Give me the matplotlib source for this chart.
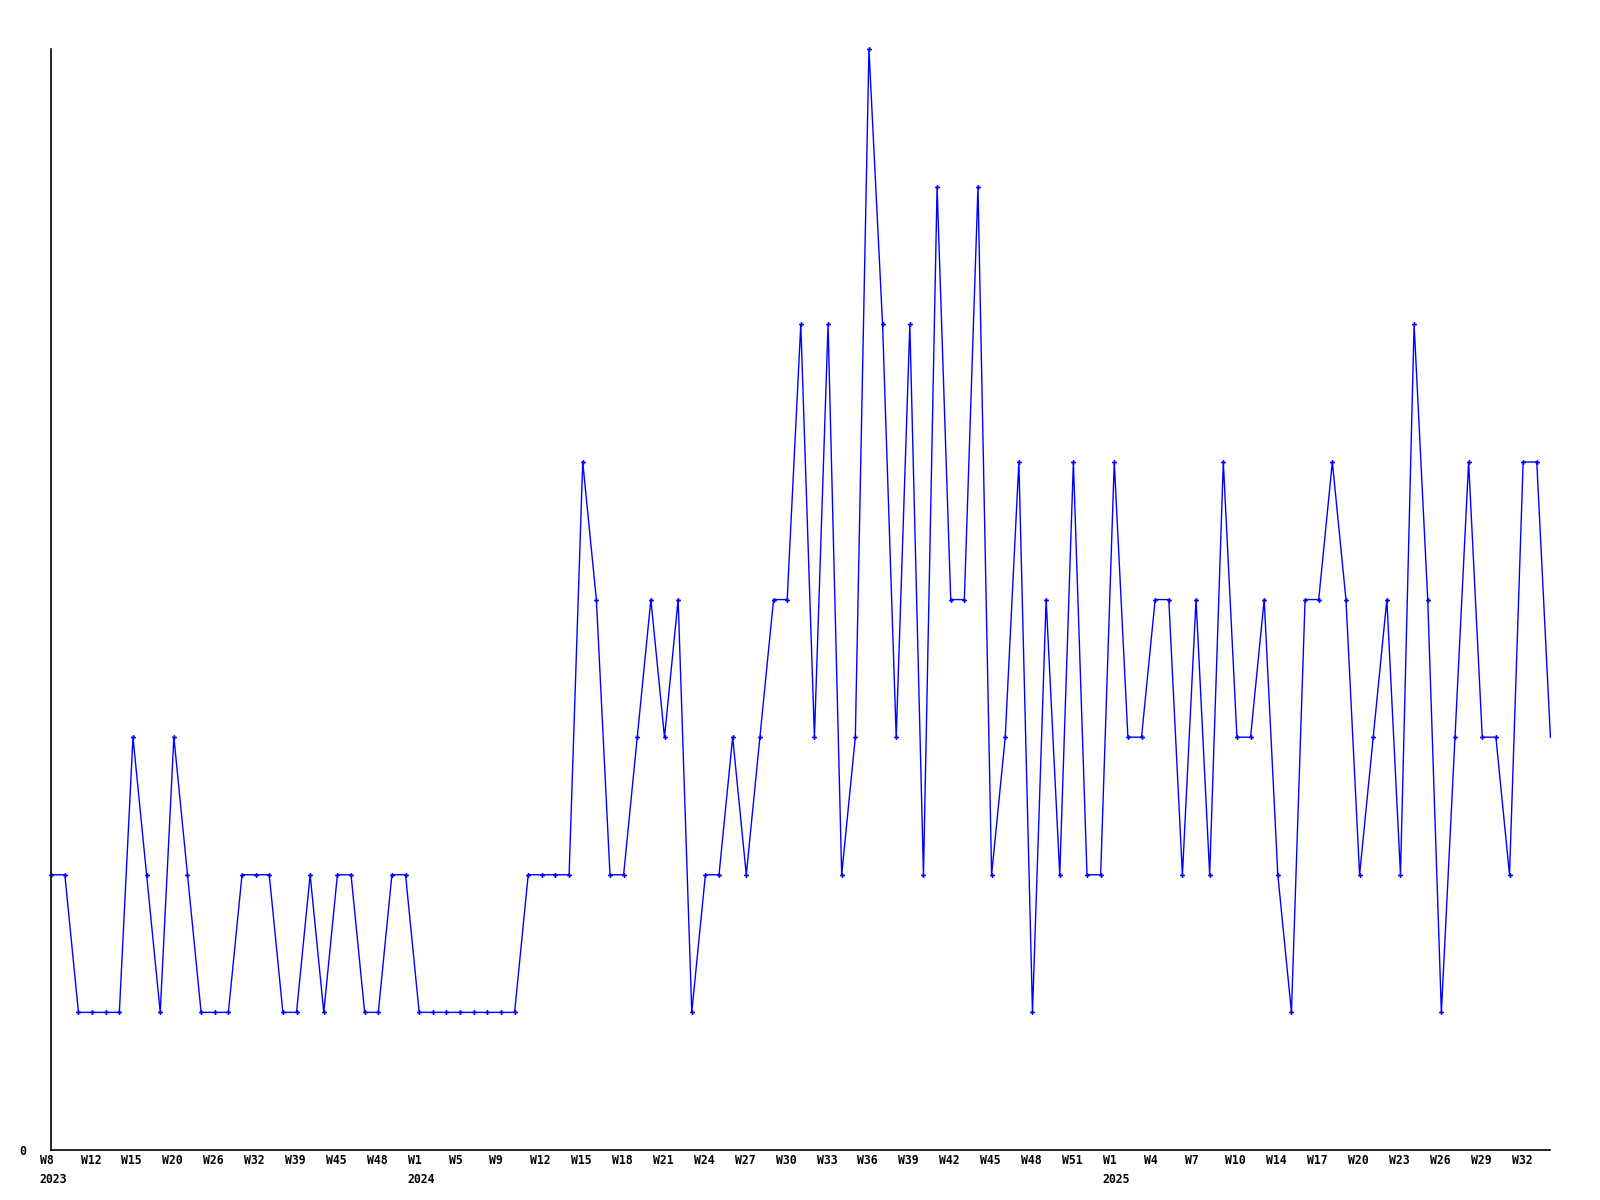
import matplotlib
matplotlib.use("Agg")
import matplotlib.pyplot as plt
import matplotlib.transforms as mtransforms
import numpy as np

# weekly counts, one value per recorded week (weeks with no record are skipped)
counts = [
    2, 2, 1, 1, 1, 1, 3, 2, 1, 3,
    2, 1, 1, 1, 2, 2, 2, 1, 1, 2,
    1, 2, 2, 1, 1, 2, 2, 1, 1, 1,
    1, 1, 1, 1, 1, 2, 2, 2, 2, 5,
    4, 2, 2, 3, 4, 3, 4, 1, 2, 2,
    3, 2, 3, 4, 4, 6, 3, 6, 2, 3,
    8, 6, 3, 6, 2, 7, 4, 4, 7, 2,
    3, 5, 1, 4, 2, 5, 2, 2, 5, 3,
    3, 4, 4, 2, 4, 2, 5, 3, 3, 4,
    2, 1, 4, 4, 5, 4, 2, 3, 4, 2,
    6, 4, 1, 3, 5, 3, 3, 2, 5, 5,
    3,
]

# every third week is labelled on the axis
week_labels = [
    "W8", "W12", "W15", "W20", "W26", "W32", "W39", "W45", "W48",
    "W1", "W5", "W9", "W12", "W15", "W18", "W21", "W24", "W27", "W30",
    "W33", "W36", "W39", "W42", "W45", "W48", "W51",
    "W1", "W4", "W7", "W10", "W14", "W17", "W20", "W23", "W26", "W29", "W32",
]
year_marks = {0: "2023", 9: "2024", 26: "2025"}

x = np.arange(len(counts))

fig = plt.figure(figsize=(16, 12), dpi=100)
ax = fig.add_axes([0.032, 0.0417, 0.937, 0.9173])

ax.plot(x[:-1], counts[:-1], color="#0000ff", lw=1.0, marker="P",
        markersize=3.5, markeredgewidth=0, clip_on=False)
ax.plot(x[-2:], counts[-2:], color="#0000ff", lw=1.0, clip_on=False)

ax.set_xlim(0, len(counts) - 1)
ax.set_ylim(0, 8)

for side in ["top", "right"]:
    ax.spines[side].set_visible(False)
for side in ["left", "bottom"]:
    ax.spines[side].set_linewidth(1.2)
    ax.spines[side].set_color("black")

tick_pos = x[::3]
labels = []
for i, w in enumerate(week_labels):
    if i in year_marks:
        labels.append(w + "\n" + year_marks[i])
    else:
        labels.append(w)
ax.set_xticks(tick_pos)
ax.set_xticklabels(labels, fontfamily="DejaVu Sans Mono", fontweight="bold",
                   fontsize=8.3, ha="left", linespacing=1.55)
ax.tick_params(axis="x", length=0, pad=3)
shift = mtransforms.ScaledTranslation(-11.5 / 100, 0, fig.dpi_scale_trans)
for lab in ax.get_xticklabels():
    lab.set_transform(lab.get_transform() + shift)
    lab.set_multialignment("left")

ax.set_yticks([0])
ax.set_yticklabels(["0"], fontfamily="DejaVu Sans Mono", fontweight="bold",
                   fontsize=8.3)
ax.tick_params(axis="y", length=0, pad=18)

fig.savefig("out.png", dpi=100)
